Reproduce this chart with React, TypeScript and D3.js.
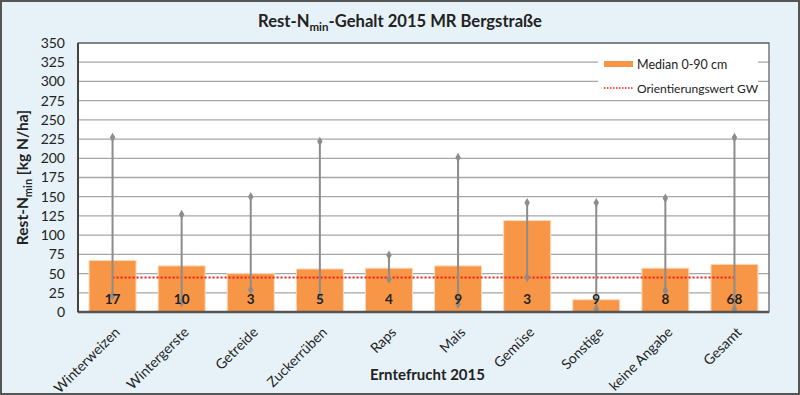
import React, { useEffect, useRef } from "react";
import * as d3 from "d3";

const categories = [
  "Winterweizen",
  "Wintergerste",
  "Getreide",
  "Zuckerrüben",
  "Raps",
  "Mais",
  "Gemüse",
  "Sonstige",
  "keine Angabe",
  "Gesamt",
];
const medianValues = [67, 60, 50, 56, 57, 60, 119, 16, 57, 62];
const maxValues = [227, 127, 150, 222, 74, 201, 142, 142, 148, 227];
const minValues = [21, 12, 29, 20, 43, 10, 45, 4, 28, 4];
const sampleCounts = [17, 10, 3, 5, 4, 9, 3, 9, 8, 68];
const orientationValue = 45;
const yTicks = d3.range(0, 351, 25);

const FONT = "Lato, 'Open Sans', sans-serif";

const App = () => {
  const ref = useRef<SVGSVGElement>(null);

  useEffect(() => {
    const svg = d3.select(ref.current);
    svg.selectAll("*").remove();

    const W = 800;
    const H = 395;
    const margin = { left: 78, right: 31, top: 43, bottom: 83 };
    const width = W - margin.left - margin.right;
    const height = H - margin.top - margin.bottom;

    // background
    svg
      .append("rect")
      .attr("x", 1)
      .attr("y", 1)
      .attr("width", W - 2)
      .attr("height", H - 2)
      .attr("fill", "#e7f2f8")
      .attr("stroke", "#555")
      .attr("stroke-width", 2);

    // title
    const title = svg
      .append("text")
      .attr("x", 400)
      .attr("y", 27)
      .attr("text-anchor", "middle")
      .attr("font-family", FONT)
      .attr("font-weight", "bold")
      .attr("font-size", 16.6)
      .attr("fill", "#222");
    title.append("tspan").text("Rest-N");
    title.append("tspan").attr("font-size", 11.5).attr("dy", 4).text("min");
    title.append("tspan").attr("dy", -4).text("-Gehalt 2015 MR Bergstraße");

    const g = svg
      .append("g")
      .attr("transform", `translate(${margin.left},${margin.top})`);

    const x = d3
      .scaleBand()
      .domain(categories)
      .range([0, width])
      .paddingInner(0.32)
      .paddingOuter(0.16);
    const y = d3.scaleLinear().domain([0, 350]).range([height, 0]);
    const cx = (c: string) => (x(c) ?? 0) + x.bandwidth() / 2;

    g.append("rect")
      .attr("width", width)
      .attr("height", height)
      .attr("fill", "#fff");

    // gridlines
    g.append("g")
      .selectAll("line")
      .data(yTicks.slice(1))
      .join("line")
      .attr("x1", 0)
      .attr("x2", width)
      .attr("y1", (d) => y(d))
      .attr("y2", (d) => y(d))
      .attr("stroke", "#a6a6a6")
      .attr("stroke-width", 1.3);

    // bars
    g.append("g")
      .selectAll("rect")
      .data(categories)
      .join("rect")
      .attr("x", (d) => x(d) ?? 0)
      .attr("width", x.bandwidth())
      .attr("y", (d, i) => y(medianValues[i]))
      .attr("height", (d, i) => height - y(medianValues[i]))
      .attr("fill", "#f79646")
      .attr("stroke", "#fcd9bd")
      .attr("stroke-width", 1);

    // orientation line
    g.append("line")
      .attr("x1", cx(categories[0]))
      .attr("x2", cx(categories[categories.length - 1]))
      .attr("y1", y(orientationValue))
      .attr("y2", y(orientationValue))
      .attr("stroke", "#ff1a1a")
      .attr("stroke-width", 2)
      .attr("stroke-dasharray", "2,2");

    // min-max ranges
    const ranges = g.append("g");
    ranges
      .selectAll("line")
      .data(categories)
      .join("line")
      .attr("x1", cx)
      .attr("x2", cx)
      .attr("y1", (d, i) => y(maxValues[i]))
      .attr("y2", (d, i) => y(minValues[i]))
      .attr("stroke", "#8c8c8c")
      .attr("stroke-width", 2);
    const diamond = d3.symbol(d3.symbolDiamond, 26);
    const markers = categories.flatMap((c, i) => [
      { c, v: maxValues[i] },
      { c, v: minValues[i] },
    ]);
    ranges
      .selectAll("path")
      .data(markers)
      .join("path")
      .attr("d", diamond)
      .attr("transform", (d) => `translate(${cx(d.c)},${y(d.v)})`)
      .attr("fill", "#8c8c8c");

    // counts
    g.append("g")
      .selectAll("text")
      .data(categories)
      .join("text")
      .attr("x", cx)
      .attr("y", height - 8)
      .attr("text-anchor", "middle")
      .attr("font-family", FONT)
      .attr("font-weight", "bold")
      .attr("font-size", 13.5)
      .attr("fill", "#222")
      .text((d, i) => sampleCounts[i]);

    // plot frame
    g.append("rect")
      .attr("width", width)
      .attr("height", height)
      .attr("fill", "none")
      .attr("stroke", "#666")
      .attr("stroke-width", 1.3);
    g.append("line")
      .attr("x1", 0)
      .attr("x2", width)
      .attr("y1", height)
      .attr("y2", height)
      .attr("stroke", "#555")
      .attr("stroke-width", 2.5);
    g.append("line")
      .attr("x1", 0)
      .attr("x2", 0)
      .attr("y1", 0)
      .attr("y2", height)
      .attr("stroke", "#444")
      .attr("stroke-width", 2);

    // y axis
    const yAxis = g.append("g").call(
      d3
        .axisLeft(y)
        .tickValues(yTicks)
        .tickSize(0)
        .tickPadding(13)
    );
    yAxis.select(".domain").remove();
    yAxis
      .selectAll("text")
      .attr("font-family", FONT)
      .attr("font-size", 14)
      .attr("fill", "#222");

    // x axis
    const xAxis = g
      .append("g")
      .attr("transform", `translate(0,${height})`)
      .call(d3.axisBottom(x).tickSize(0));
    xAxis.select(".domain").remove();
    xAxis
      .selectAll("text")
      .attr("font-family", FONT)
      .attr("font-size", 14)
      .attr("fill", "#222")
      .attr("text-anchor", "end")
      .attr("dy", null)
      .attr("transform", "translate(6,19) rotate(-45)");

    // axis titles
    g.append("text")
      .attr("x", width / 2 + 4)
      .attr("y", height + 68)
      .attr("text-anchor", "middle")
      .attr("font-family", FONT)
      .attr("font-weight", "bold")
      .attr("font-size", 15)
      .attr("fill", "#222")
      .text("Erntefrucht 2015");

    const yTitle = svg
      .append("text")
      .attr("transform", `translate(28,${margin.top + height / 2}) rotate(-90)`)
      .attr("text-anchor", "middle")
      .attr("font-family", FONT)
      .attr("font-weight", "bold")
      .attr("font-size", 15.5)
      .attr("fill", "#222");
    yTitle.append("tspan").text("Rest-N");
    yTitle.append("tspan").attr("font-size", 11).attr("dy", 4).text("min");
    yTitle.append("tspan").attr("dy", -4).text(" [kg N/ha]");

    // legend
    const lg = svg.append("g").attr("transform", "translate(598,52)");
    lg.append("rect")
      .attr("width", 160)
      .attr("height", 46)
      .attr("fill", "#fff");
    lg.append("rect")
      .attr("x", 6)
      .attr("y", 9)
      .attr("width", 29)
      .attr("height", 6)
      .attr("fill", "#f79646");
    lg.append("text")
      .attr("x", 39)
      .attr("y", 17)
      .attr("font-family", FONT)
      .attr("font-size", 12.5)
      .attr("fill", "#222")
      .text("Median 0-90 cm");
    lg.append("line")
      .attr("x1", 6)
      .attr("x2", 35)
      .attr("y1", 36)
      .attr("y2", 36)
      .attr("stroke", "#ff1a1a")
      .attr("stroke-width", 1.5)
      .attr("stroke-dasharray", "1.5,1.5");
    lg.append("text")
      .attr("x", 39)
      .attr("y", 41)
      .attr("font-family", FONT)
      .attr("font-size", 12)
      .attr("fill", "#222")
      .text("Orientierungswert GW");
  }, []);

  return (
    <svg
      ref={ref}
      width={800}
      height={395}
      style={{ position: "absolute", left: 0, top: 0 }}
    />
  );
};

export default App;
